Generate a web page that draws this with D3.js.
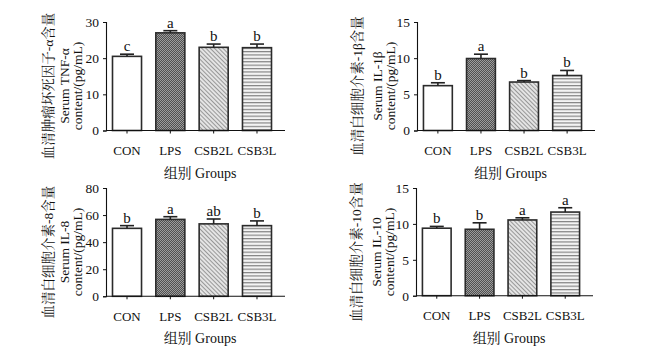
<!DOCTYPE html>
<html><head><meta charset="utf-8">
<script src="https://cdn.jsdelivr.net/npm/d3@7"></script>
<style>body{margin:0;background:#fff}svg{display:block}</style>
</head><body>
<script>
const groups = ["CON","LPS","CSB2L","CSB3L"];
const tnfVals = [20.5, 27.0, 23.0, 22.9];
const tnfErr  = [0.6, 0.6, 0.9, 1.0];
const tnfSig  = ["c","a","b","b"];
const il1bVals = [6.2, 9.95, 6.7, 7.6];
const il1bErr  = [0.4, 0.6, 0.2, 0.7];
const il1bSig  = ["b","a","b","b"];
const il8Vals = [50.2, 56.8, 53.5, 52.2];
const il8Err  = [2.0, 2.0, 3.6, 3.5];
const il8Sig  = ["b","a","ab","b"];
const il10Vals = [9.4, 9.25, 10.55, 11.65];
const il10Err  = [0.25, 0.9, 0.3, 0.6];
const il10Sig  = ["b","b","a","a"];
const tnfTicks = [0,10,20,30];
const il1bTicks = [0,5,10,15];
const il8Ticks = [0,20,40,60,80];
const il10Ticks = [0,5,10,15];

const W = 654, H = 359;
const svg = d3.select("body").append("svg").attr("width", W).attr("height", H);
const serif = "'Liberation Serif','Times New Roman',serif";
const cjk = "'Liberation Serif','Noto Serif CJK SC','Noto Sans CJK SC',serif";

const defs = svg.append("defs");
const p1 = defs.append("pattern").attr("id","pLPS").attr("patternUnits","userSpaceOnUse").attr("width",2).attr("height",2);
p1.append("rect").attr("width",2).attr("height",2).attr("fill","#505050");
p1.append("rect").attr("width",1).attr("height",1).attr("fill","#9c9c9c");
p1.append("rect").attr("x",1).attr("y",1).attr("width",1).attr("height",1).attr("fill","#9c9c9c");
const p2 = defs.append("pattern").attr("id","pCSB2").attr("patternUnits","userSpaceOnUse").attr("width",3).attr("height",3).attr("patternTransform","rotate(-45)");
p2.append("rect").attr("width",3).attr("height",3).attr("fill","#e4e4e4");
p2.append("line").attr("x1",0).attr("y1",0).attr("x2",0).attr("y2",3).attr("stroke","#6e6e6e").attr("stroke-width",1.3);
const p3 = defs.append("pattern").attr("id","pCSB3").attr("patternUnits","userSpaceOnUse").attr("width",4).attr("height",3.4);
p3.append("rect").attr("width",4).attr("height",3.4).attr("fill","#f4f4f4");
p3.append("line").attr("x1",0).attr("y1",0.6).attr("x2",4).attr("y2",0.6).attr("stroke","#7a7a7a").attr("stroke-width",1.1);

const fills = ["#ffffff","url(#pLPS)","url(#pCSB2)","url(#pCSB3)"];

function panel(cfg){
  const g = svg.append("g");
  const x = d3.scaleBand().domain(groups).range([cfg.x0, cfg.x1]).paddingInner(0.33).paddingOuter(0.15);
  const y = d3.scaleLinear().domain([0, cfg.max]).range([cfg.yb, cfg.yt]);
  g.selectAll("rect.bar").data(groups).enter().append("rect")
    .attr("x", d=>x(d)).attr("width", x.bandwidth())
    .attr("y", (d,i)=>y(cfg.vals[i])).attr("height", (d,i)=>y(0)-y(cfg.vals[i]))
    .attr("fill", (d,i)=>fills[i]).attr("stroke","#2b2b2b").attr("stroke-width",1.6);
  const cw = 14;
  groups.forEach((d,i)=>{
    const cx = x(d)+x.bandwidth()/2;
    const top = y(cfg.vals[i]+cfg.err[i]);
    g.append("line").attr("x1",cx).attr("x2",cx).attr("y1",y(cfg.vals[i])).attr("y2",top).attr("stroke","#222").attr("stroke-width",1.6);
    g.append("line").attr("x1",cx-cw/2).attr("x2",cx+cw/2).attr("y1",top).attr("y2",top).attr("stroke","#222").attr("stroke-width",1.6);
    g.append("text").attr("x",cx).attr("y",top-3).attr("text-anchor","middle")
      .attr("font-family",serif).attr("font-size",15).attr("fill","#111").text(cfg.sig[i]);
  });
  const ya = g.append("g").attr("transform",`translate(${cfg.x0},0)`)
    .call(d3.axisLeft(y).tickValues(cfg.ticks).tickSize(3).tickPadding(4));
  ya.select(".domain").attr("stroke","#111").attr("stroke-width",1.1);
  ya.selectAll(".tick line").attr("stroke","#111");
  ya.selectAll("text").attr("font-family",serif).attr("font-size",13.5).attr("fill","#111");
  const xa = g.append("g").attr("transform",`translate(0,${cfg.yb})`)
    .call(d3.axisBottom(x).tickSize(3).tickPadding(12).tickSizeOuter(0));
  xa.select(".domain").attr("d",`M${cfg.x0},0H${cfg.x1 + 7}`).attr("stroke","#111").attr("stroke-width",1.1);
  xa.selectAll(".tick line").attr("stroke","#111");
  xa.selectAll("text").attr("font-family",serif).attr("font-size",13).attr("fill","#111");
  g.append("text").attr("x",(cfg.x0+cfg.x1)/2+8).attr("y",cfg.yb+47).attr("text-anchor","middle")
    .attr("font-family",cjk).attr("font-size",14).attr("fill","#111").text("组别 Groups");
  const cy = cfg.ycTitle;
  cfg.ylab.forEach((t,k)=>{
    g.append("text").attr("transform",`translate(${cfg.x0 - cfg.yoff[k]},${cy}) rotate(-90)`)
      .attr("text-anchor","middle").attr("dominant-baseline","central")
      .attr("font-family",cjk).attr("font-size",k===0?13.5:13.5).attr("fill","#111").text(t);
  });
}

panel({x0:106, x1:278, yt:22, yb:130.5, max:30, vals:tnfVals, err:tnfErr, sig:tnfSig, ticks:tnfTicks,
  ylab:["血清肿瘤坏死因子-α含量","Serum TNF-α","content/(pg/mL)"], yoff:[58,42,29], ycTitle:86});
panel({x0:417, x1:588, yt:22, yb:130.5, max:15, vals:il1bVals, err:il1bErr, sig:il1bSig, ticks:il1bTicks,
  ylab:["血清白细胞介素-1β含量","Serum IL-1β","content/(pg/mL)"], yoff:[60,40,27], ycTitle:86});
panel({x0:106, x1:278, yt:188, yb:296.3, max:80, vals:il8Vals, err:il8Err, sig:il8Sig, ticks:il8Ticks,
  ylab:["血清白细胞介素-8含量","Serum IL-8","content/(pg/mL)"], yoff:[58,42,29], ycTitle:252});
panel({x0:416, x1:586, yt:188, yb:295.7, max:15, vals:il10Vals, err:il10Err, sig:il10Sig, ticks:il10Ticks,
  ylab:["血清白细胞介素-10含量","Serum IL-10","content/(pg/mL)"], yoff:[60,40,27], ycTitle:252});
</script>
</body></html>
